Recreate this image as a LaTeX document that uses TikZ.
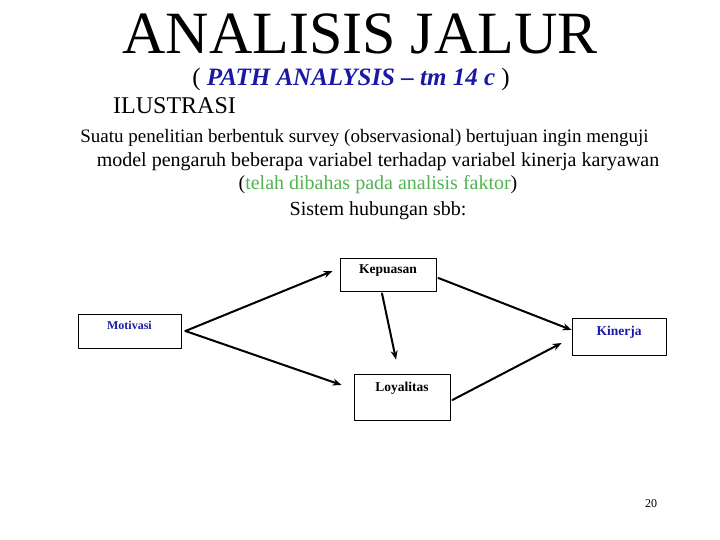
\documentclass[tikz,border=0pt]{standalone}
\usepackage{fontspec}
\setmainfont{Liberation Serif}
\usetikzlibrary{arrows.meta}
\definecolor{birujudul}{RGB}{25,25,165}
\definecolor{hijau}{RGB}{80,180,80}
\tikzset{kotak/.style={draw,line width=0.8pt,inner sep=0pt,font=\fontsize{13.5}{14}\selectfont\bfseries},
	baris/.style={anchor=base,inner sep=0pt,font=\fontsize{20}{20}\selectfont},
	panah/.style={->,line width=2pt}}

\begin{document}
\begin{tikzpicture}[>={Stealth[length=9pt,width=7pt]},x=1pt,y=-1pt,line join=round,line cap=round]
	\useasboundingbox (0,0) rectangle (720,540);
	\node[anchor=base,inner sep=0pt,font=\fontsize{60}{60}\selectfont] (judul) at (360,54) {ANALISIS JALUR};
	\node[anchor=base,inner sep=0pt,font=\fontsize{25}{25}\selectfont] (subjudul) at (351,86)
		{( \textcolor{birujudul}{\textbf{\textit{PATH ANALYSIS – tm 14 c}}} )};
	\node[anchor=base west,inner sep=0pt,font=\fontsize{24}{24}\selectfont] (ilus) at (113,114) {ILUSTRASI};
	\node[baris,font=\fontsize{19}{19}\selectfont] (b1) at (364.5,143) {Suatu penelitian berbentuk survey (observasional) bertujuan ingin menguji};
	\node[baris] (b2) at (378,167) {model pengaruh beberapa variabel terhadap variabel kinerja karyawan};
	\node[baris] (b3) at (378,190) {(\textcolor{hijau}{telah dibahas pada analisis faktor})};
	\node[baris] (b4) at (378,215) {Sistem hubungan sbb:};
	% kotak variabel
	\node[kotak,minimum width=96pt,text height=15pt,text depth=18pt] (kep) at (388,274.5) {Kepuasan};
	\node[kotak,minimum width=103pt,text height=15pt,text depth=19pt,font=\fontsize{12}{12}\selectfont\bfseries,text=birujudul] (mot) at (129.5,331) {Motivasi};
	\node[kotak,minimum width=94pt,text height=17pt,text depth=20pt,text=birujudul] (kin) at (619,336.5) {Kinerja};
	\node[kotak,minimum width=96pt,text height=17pt,text depth=29pt] (loy) at (402,397) {Loyalitas};
	% jalur
	\draw[panah] ([xshift=4pt]mot.east) -- ([xshift=-7pt,yshift=3.5pt]kep.west);
	\draw[panah] ([xshift=4pt]mot.east) -- ([xshift=-12pt,yshift=12pt]loy.west);
	\draw[panah] ([xshift=-6pt,yshift=-2pt]kep.south) -- ([xshift=-6pt,yshift=14pt]loy.north);
	\draw[panah] ([xshift=2pt,yshift=-3.5pt]kep.east) -- ([yshift=6.5pt]kin.west);
	\draw[panah] ([xshift=2pt,yshift=-3pt]loy.east) -- ([xshift=-10pt,yshift=-6.5pt]kin.west);
	\node[inner sep=0pt,font=\fontsize{12}{12}\selectfont] (hal) at (651,504) {20};
\end{tikzpicture}
\end{document}
